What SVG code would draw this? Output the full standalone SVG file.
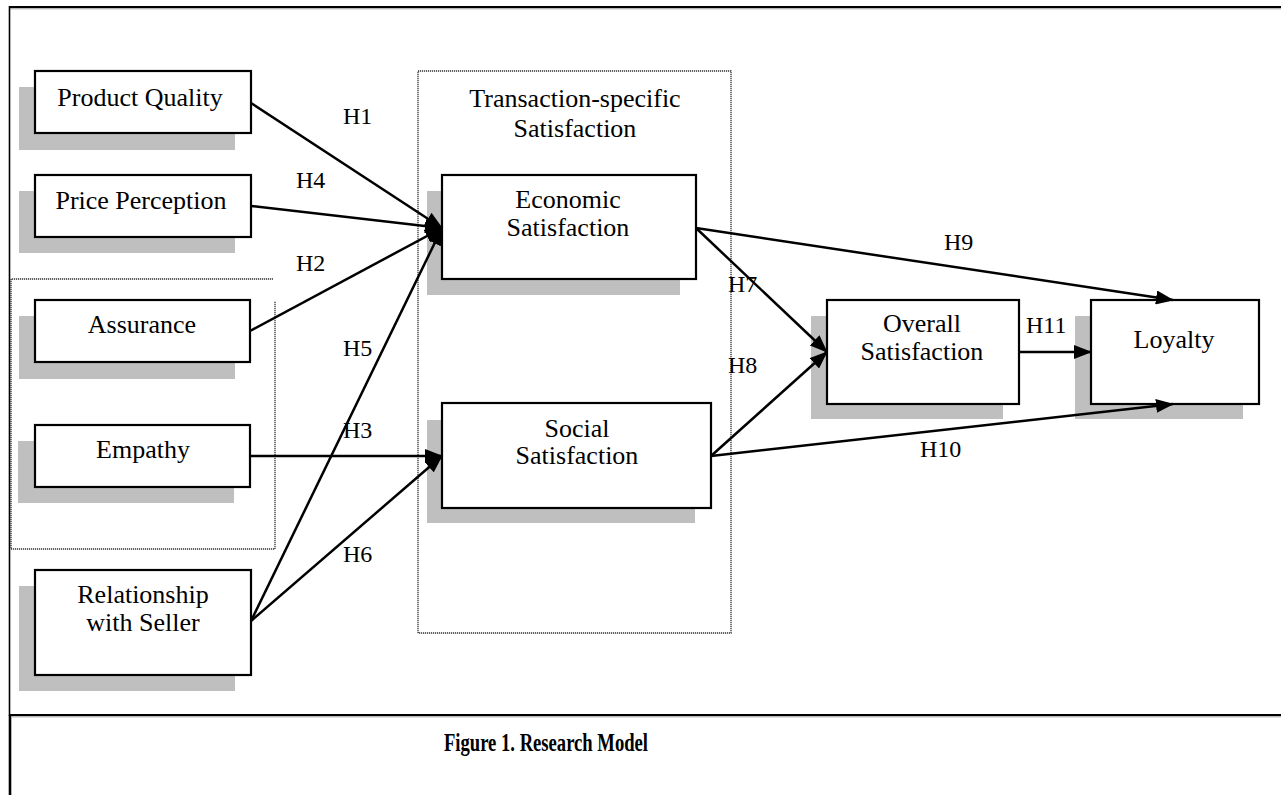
<svg xmlns="http://www.w3.org/2000/svg" width="1281" height="795" viewBox="0 0 1281 795">
<defs>
<marker id="arr" markerUnits="userSpaceOnUse" markerWidth="18" markerHeight="14" refX="17" refY="7" orient="auto">
<path d="M0,0 L18,7 L0,14 z" fill="#000"/>
</marker>
<style>
.box{fill:#fff;stroke:#000;stroke-width:2.2}
.sh{fill:#bfbfbf}
.t{font-family:"Liberation Serif",serif;font-size:26px;fill:#000;text-anchor:middle}
.h{font-family:"Liberation Serif",serif;font-size:24px;fill:#000}
.c{stroke:#000;stroke-width:2.5;fill:none;marker-end:url(#arr)}
.dot{stroke:#333;stroke-width:1.3;fill:none;stroke-dasharray:1.2 0.8}
</style>
</defs>
<rect width="1281" height="795" fill="#fff"/>
<g id="frame">
<line x1="9" y1="7" x2="1281" y2="7" stroke="#000" stroke-width="2"/>
<line x1="9" y1="8.8" x2="1281" y2="8.8" stroke="#999" stroke-width="1"/>
<line x1="9.5" y1="6" x2="9.5" y2="716" stroke="#000" stroke-width="1.6"/>
<line x1="10" y1="715" x2="10" y2="795" stroke="#000" stroke-width="2.6"/>
<line x1="9" y1="715" x2="1281" y2="715" stroke="#000" stroke-width="2"/>
<line x1="11" y1="716.8" x2="1281" y2="716.8" stroke="#999" stroke-width="1"/>
</g>
<g id="group-containers">
<polyline class="dot" points="273,279 11,279 11,549 275,549 275,301"/>
<rect class="dot" x="418" y="71" width="313" height="562"/>
<text class="t" x="575" y="107" font-size="27">Transaction-specific</text>
<text class="t" x="575" y="137" font-size="27">Satisfaction</text>
</g>
<g id="node-product-quality">
<rect class="sh" x="19" y="87" width="216" height="63"/>
<rect class="box" x="35" y="71" width="216" height="62"/>
<text class="t" x="140" y="106">Product Quality</text>
</g>
<g id="node-price-perception">
<rect class="sh" x="19" y="191" width="216" height="62"/>
<rect class="box" x="35" y="175" width="216" height="62"/>
<text class="t" x="141" y="209">Price Perception</text>
</g>
<g id="node-assurance">
<rect class="sh" x="19" y="316" width="216" height="63"/>
<rect class="box" x="35" y="300" width="215" height="62"/>
<text class="t" x="142" y="333">Assurance</text>
</g>
<g id="node-empathy">
<rect class="sh" x="18" y="441" width="216" height="62"/>
<rect class="box" x="35" y="425" width="215" height="62"/>
<text class="t" x="143" y="458">Empathy</text>
</g>
<g id="node-relationship">
<rect class="sh" x="19" y="586" width="216" height="105"/>
<rect class="box" x="35" y="570" width="216" height="105"/>
<text class="t" x="143" y="603">Relationship</text>
<text class="t" x="143" y="631">with Seller</text>
</g>
<g id="node-economic">
<rect class="sh" x="427" y="191" width="253" height="104"/>
<rect class="box" x="442" y="175" width="254" height="104"/>
<text class="t" x="568" y="208">Economic</text>
<text class="t" x="568" y="236">Satisfaction</text>
</g>
<g id="node-social">
<rect class="sh" x="427" y="420" width="268" height="103"/>
<rect class="box" x="442" y="403" width="269" height="105"/>
<text class="t" x="577" y="437">Social</text>
<text class="t" x="577" y="464">Satisfaction</text>
</g>
<g id="node-overall">
<rect class="sh" x="811" y="316" width="192" height="103"/>
<rect class="box" x="827" y="300" width="192" height="104"/>
<text class="t" x="922" y="332">Overall</text>
<text class="t" x="922" y="360">Satisfaction</text>
</g>
<g id="node-loyalty">
<rect class="sh" x="1075" y="316" width="168" height="103"/>
<rect class="box" x="1091" y="300" width="168" height="104"/>
<text class="t" x="1174" y="348">Loyalty</text>
</g>
<g id="connectors">
<line class="c" x1="251" y1="103" x2="442" y2="228"/>
<line class="c" x1="251" y1="206" x2="442" y2="228"/>
<line class="c" x1="250" y1="331" x2="442" y2="228"/>
<line class="c" x1="251" y1="621" x2="442" y2="228"/>
<line class="c" x1="250" y1="456" x2="442" y2="456"/>
<line class="c" x1="251" y1="621" x2="442" y2="456"/>
<line class="c" x1="696" y1="228" x2="827" y2="352"/>
<line class="c" x1="696" y1="228" x2="1173" y2="300"/>
<line class="c" x1="711" y1="456" x2="827" y2="352"/>
<line class="c" x1="711" y1="456" x2="1173" y2="404"/>
<line class="c" x1="1019" y1="352" x2="1091" y2="352"/>
</g>
<g id="labels">
<text class="h" x="343" y="124">H1</text>
<text class="h" x="296" y="188">H4</text>
<text class="h" x="296" y="271">H2</text>
<text class="h" x="343" y="356">H5</text>
<text class="h" x="343" y="438">H3</text>
<text class="h" x="343" y="562">H6</text>
<text class="h" x="728" y="292">H7</text>
<text class="h" x="728" y="373">H8</text>
<text class="h" x="944" y="250">H9</text>
<text class="h" x="1026" y="333">H11</text>
<text class="h" x="920" y="457">H10</text>
</g>
<g id="caption">
<text x="444" y="751" font-family="Liberation Serif, serif" font-weight="bold" font-size="26" textLength="204" lengthAdjust="spacingAndGlyphs">Figure 1. Research Model</text>
</g>
</svg>
